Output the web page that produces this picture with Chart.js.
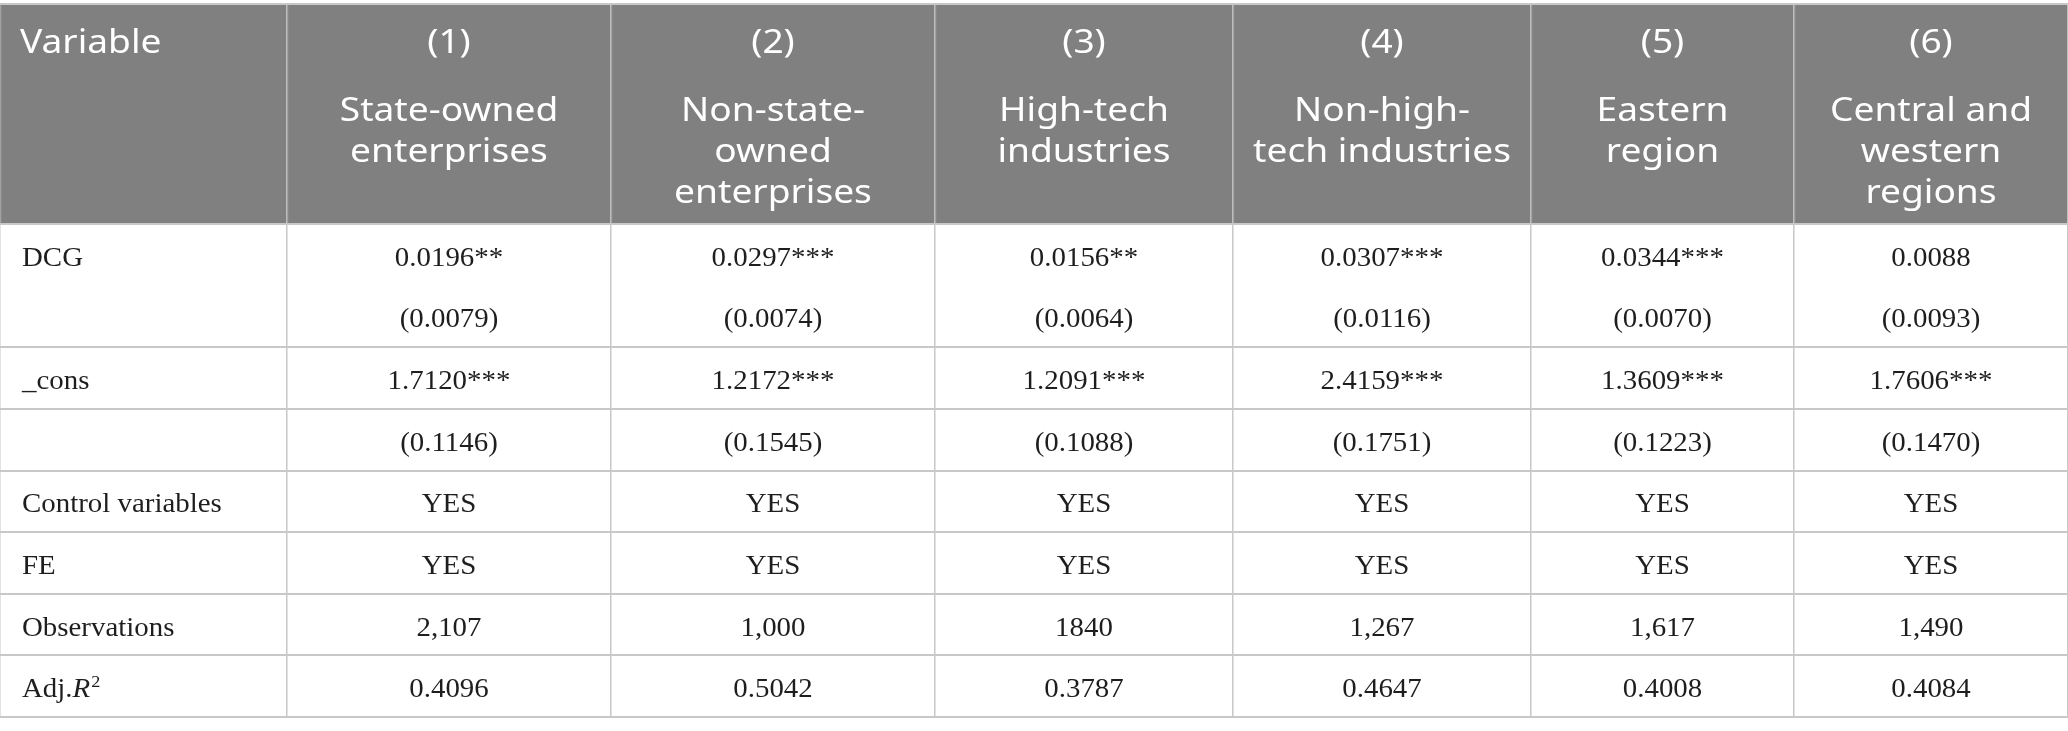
<!DOCTYPE html>
<html><head><meta charset="utf-8">
<script src="https://cdn.jsdelivr.net/npm/chart.js@4.4.0/dist/chart.umd.min.js"></script>
<style>html,body{margin:0;padding:0;background:#fff;overflow:hidden}canvas{display:block}</style>
</head><body>
<canvas id="c" width="2068" height="731" style="width:2068px;height:731px"></canvas>
<script>
// ---------- data ----------
const firstHeader = "Variable";
const headerNumbers = ["(1)", "(2)", "(3)", "(4)", "(5)", "(6)"];
const headerTitles = [
  ["State-owned", "enterprises"],
  ["Non-state-", "owned", "enterprises"],
  ["High-tech", "industries"],
  ["Non-high-", "tech industries"],
  ["Eastern", "region"],
  ["Central and", "western", "regions"]
];
const rowLabels = ["DCG", "", "_cons", "", "Control variables", "FE", "Observations", "Adj.R²"];
const dcgCoef = ["0.0196**", "0.0297***", "0.0156**", "0.0307***", "0.0344***", "0.0088"];
const dcgSE = ["(0.0079)", "(0.0074)", "(0.0064)", "(0.0116)", "(0.0070)", "(0.0093)"];
const consCoef = ["1.7120***", "1.2172***", "1.2091***", "2.4159***", "1.3609***", "1.7606***"];
const consSE = ["(0.1146)", "(0.1545)", "(0.1088)", "(0.1751)", "(0.1223)", "(0.1470)"];
const controlVars = ["YES", "YES", "YES", "YES", "YES", "YES"];
const fixedEffects = ["YES", "YES", "YES", "YES", "YES", "YES"];
const observations = ["2,107", "1,000", "1840", "1,267", "1,617", "1,490"];
const adjR2 = ["0.4096", "0.5042", "0.3787", "0.4647", "0.4008", "0.4084"];
const bodyRows = [dcgCoef, dcgSE, consCoef, consSE, controlVars, fixedEffects, observations, adjR2];

// ---------- layout ----------
const colEdges = [0, 287, 611, 935, 1233, 1531, 1794, 2068];
const headerTop = -3.57;           // header height in row units
const rowEdges = [headerTop, 0, 2, 3, 4, 5, 6, 7, 8];
const HEADER_BG = "#808080";
const LINE = "#c8c8c8";
const HEADER_LINE = "#a2a2a2";
const BODY_FONT = '27px "Liberation Serif"';
const BODY_ITALIC = 'italic 27px "Liberation Serif"';
const BODY_SUP = '17px "Liberation Serif"';
const HEAD_FONT = '32px "Noto Sans"';
const BODY_SX = 1.07, HEAD_SX = 1.16;
const HEAD_LINE_H = 41;

const colCenter = c => (colEdges[c] + colEdges[c + 1]) / 2;

// points: header cells
const headerPoints = [{ x: colEdges[0], y: headerTop, kind: "varhead", text: firstHeader }];
headerNumbers.forEach((n, i) => headerPoints.push({ x: colCenter(i + 1), y: headerTop, kind: "head", num: n, lines: headerTitles[i] }));
// points: body cells
const bodyPoints = [];
rowLabels.forEach((lab, r) => { if (lab) bodyPoints.push({ x: colEdges[0], y: r + 0.5, kind: "label", text: lab }); });
bodyRows.forEach((row, r) => row.forEach((v, c) => bodyPoints.push({ x: colCenter(c + 1), y: r + 0.5, kind: "cell", text: v })));

function drawStretched(ctx, text, x, y, font, sx, align) {
  ctx.font = font;
  const w = ctx.measureText(text).width * sx;
  const left = align === "center" ? x - w / 2 : align === "right" ? x - w : x;
  ctx.save();
  ctx.translate(left, y);
  ctx.scale(sx, 1);
  ctx.textAlign = "left";
  ctx.textBaseline = "alphabetic";
  ctx.fillText(text, 0, 0);
  ctx.restore();
  return w;
}

const tablePlugin = {
  id: "tablePlugin",
  beforeDraw(chart) {
    const { ctx, scales: { x, y } } = chart;
    ctx.save();
    ctx.fillStyle = HEADER_BG;
    const top = y.getPixelForValue(headerTop), bot = y.getPixelForValue(0);
    const l = x.getPixelForValue(colEdges[0]), r = x.getPixelForValue(colEdges[colEdges.length - 1]);
    ctx.fillRect(l, top, r - l, bot - top);
    ctx.restore();
  },
  beforeDatasetsDraw(chart) {
    const { ctx, scales: { x, y } } = chart;
    const top = y.getPixelForValue(headerTop), bot = y.getPixelForValue(0);
    ctx.save();
    ctx.strokeStyle = HEADER_LINE;
    ctx.lineWidth = 1.5;
    x.ticks.forEach(t => {
      const px = Math.round(x.getPixelForValue(t.value)) + 0.5;
      ctx.beginPath(); ctx.moveTo(px, top + 1.5); ctx.lineTo(px, bot - 1.5); ctx.stroke();
    });
    ctx.restore();
  },
  afterDatasetsDraw(chart) {
    const { ctx } = chart;
    chart.data.datasets.forEach((ds, di) => {
      const meta = chart.getDatasetMeta(di);
      meta.data.forEach((el, i) => {
        const d = ds.data[i];
        const px = el.x, py = el.y;
        ctx.save();
        if (d.kind === "varhead") {
          ctx.fillStyle = "#ffffff";
          drawStretched(ctx, d.text, px + 20, py + 49, HEAD_FONT, HEAD_SX, "left");
        } else if (d.kind === "head") {
          ctx.fillStyle = "#ffffff";
          drawStretched(ctx, d.num, px, py + 49, HEAD_FONT, HEAD_SX, "center");
          d.lines.forEach((ln, k) => drawStretched(ctx, ln, px, py + 117 + k * HEAD_LINE_H, HEAD_FONT, HEAD_SX, "center"));
        } else if (d.kind === "label") {
          ctx.fillStyle = "#1e1e1e";
          if (d.text === "Adj.R²") {
            let xx = px + 22;
            xx += drawStretched(ctx, "Adj.", xx, py + 11, BODY_FONT, BODY_SX, "left");
            xx += drawStretched(ctx, "R", xx, py + 11, BODY_ITALIC, BODY_SX, "left");
            drawStretched(ctx, "2", xx + 1, py + 1, BODY_SUP, BODY_SX, "left");
          } else {
            drawStretched(ctx, d.text, px + 22, py + 11, BODY_FONT, BODY_SX, "left");
          }
        } else {
          ctx.fillStyle = "#1e1e1e";
          drawStretched(ctx, d.text, px, py + 11, BODY_FONT, BODY_SX, "center");
        }
        ctx.restore();
      });
    });
  }
};

function build() {
  new Chart(document.getElementById("c"), {
    type: "scatter",
    data: {
      datasets: [
        { data: headerPoints, pointRadius: 0, pointHoverRadius: 0, showLine: false },
        { data: bodyPoints, pointRadius: 0, pointHoverRadius: 0, showLine: false }
      ]
    },
    options: {
      responsive: false,
      devicePixelRatio: 1,
      animation: false,
      events: [],
      layout: { padding: { top: 4, bottom: 14, left: 0, right: 0 } },
      plugins: { legend: { display: false }, tooltip: { enabled: false } },
      scales: {
        x: {
          type: "linear", min: colEdges[0], max: colEdges[colEdges.length - 1],
          afterBuildTicks: s => { s.ticks = colEdges.map(v => ({ value: v })); },
          ticks: { display: false },
          grid: { color: LINE, lineWidth: 1.5, drawTicks: false },
          border: { display: false }
        },
        y: {
          type: "linear", reverse: true, min: headerTop, max: 8,
          afterBuildTicks: s => { s.ticks = rowEdges.map(v => ({ value: v })); },
          ticks: { display: false },
          grid: { color: LINE, lineWidth: 2, drawTicks: false },
          border: { display: false }
        }
      }
    },
    plugins: [tablePlugin]
  });
}
Promise.all([
  document.fonts.load(HEAD_FONT, "Variable"),
  document.fonts.load(BODY_FONT, "0123"),
  document.fonts.load(BODY_ITALIC, "R")
]).then(build, build);
</script>
</body></html>
